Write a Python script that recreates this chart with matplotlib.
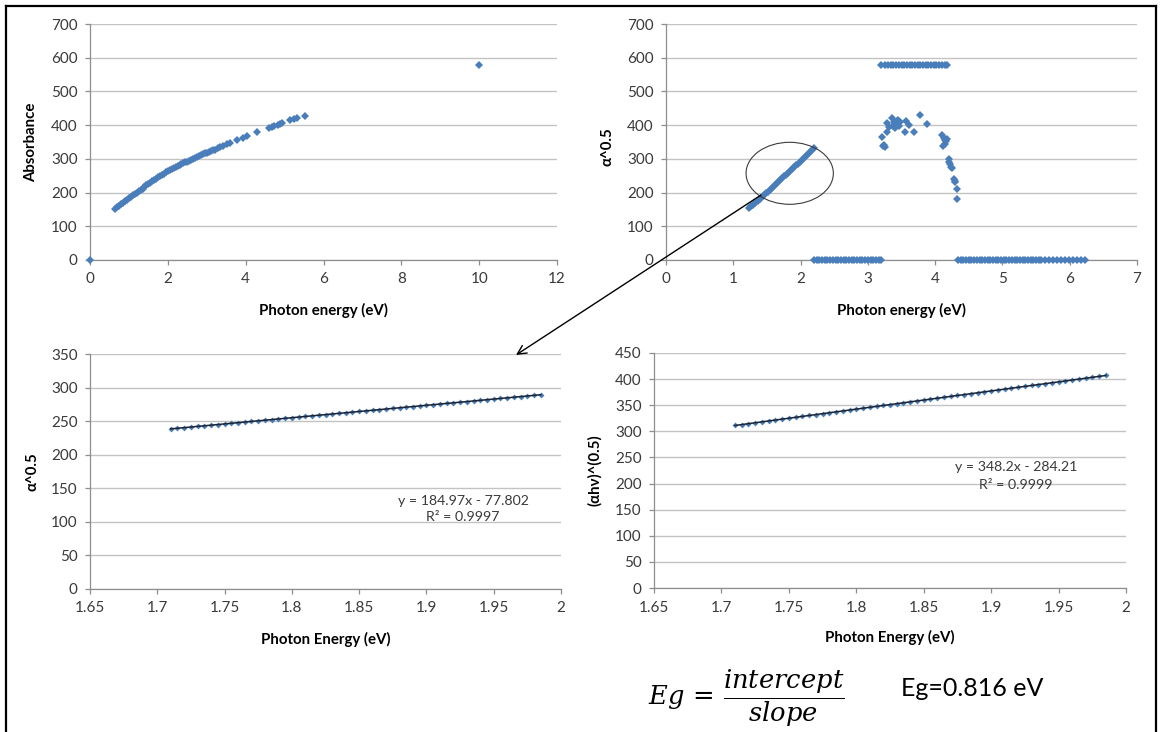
import matplotlib
matplotlib.use("Agg")
import matplotlib.pyplot as plt
from matplotlib.patches import Ellipse, FancyArrowPatch
from matplotlib.lines import Line2D

# ------------------------------------------------------------------ data
# Top-left: Absorbance vs Photon energy
tl_x = [0.00,
        0.65, 0.70, 0.75, 0.80, 0.85, 0.90, 0.95, 1.00, 1.05, 1.10,
        1.15, 1.20, 1.25, 1.30, 1.35, 1.40, 1.45, 1.50, 1.55, 1.60,
        1.65, 1.70, 1.75, 1.80, 1.85, 1.90, 1.95, 2.00, 2.05, 2.10,
        2.15, 2.20, 2.25, 2.30, 2.35, 2.40, 2.45, 2.50, 2.55, 2.60,
        2.65, 2.70, 2.75, 2.80, 2.85, 2.90, 2.95, 3.00, 3.05, 3.10,
        3.15, 3.20,
        3.28, 3.35, 3.41, 3.51, 3.60, 3.79, 3.94, 4.04, 4.30, 4.61,
        4.67, 4.73, 4.82, 4.88, 4.93, 5.14, 5.23, 5.31, 5.53,
        10.0]
tl_y = [0,
        151, 156, 161, 165, 170, 174, 179, 183, 188, 192,
        196, 200, 204, 208, 212, 217, 221, 225, 229, 233,
        237, 241, 245, 248, 252, 256, 260, 264, 267, 270,
        273, 276, 279, 281, 284, 287, 290, 292, 295, 298,
        300, 303, 306, 308, 311, 313, 316, 318, 321, 323,
        325, 327,
        331, 334, 338, 343, 347, 356, 363, 367, 379, 392,
        395, 397, 401, 404, 405, 414, 417, 420, 428,
        578]

# Top-right: alpha^0.5 vs Photon energy (several groups of points)
tr_line_x = [1.24, 1.27, 1.30, 1.33, 1.36, 1.39, 1.42, 1.45, 1.48, 1.51,
             1.54, 1.57, 1.60, 1.63, 1.66, 1.69, 1.72, 1.75, 1.78, 1.81,
             1.84, 1.87, 1.90, 1.93, 1.96, 1.99, 2.02, 2.05, 2.08, 2.11,
             2.14, 2.17, 2.20]
tr_line_y = [153, 159, 164, 170, 175, 181, 186, 192, 198, 203,
             209, 214, 220, 225, 231, 236, 242, 248, 253, 259,
             264, 270, 275, 281, 286, 292, 298, 303, 309, 314,
             320, 325, 331]
tr_zero1_x = [2.20, 2.24, 2.28, 2.32, 2.36, 2.40, 2.44, 2.48, 2.52, 2.56,
              2.60, 2.64, 2.68, 2.72, 2.76, 2.80, 2.84, 2.88, 2.92, 2.96,
              3.00, 3.04, 3.08, 3.12, 3.16, 3.20]
tr_zero1_y = [0, 0, 0, 0, 0, 0, 0, 0, 0, 0,
              0, 0, 0, 0, 0, 0, 0, 0, 0, 0,
              0, 0, 0, 0, 0, 0]
tr_top_x = [3.19, 3.26, 3.30, 3.34, 3.38, 3.42, 3.46, 3.50, 3.54, 3.58,
            3.62, 3.66, 3.70, 3.74, 3.78, 3.82, 3.86, 3.90, 3.94, 3.98,
            4.02, 4.06, 4.10, 4.14, 4.18]
tr_top_y = [578, 578, 578, 578, 578, 578, 578, 578, 578, 578,
            578, 578, 578, 578, 578, 578, 578, 578, 578, 578,
            578, 578, 578, 578, 578]
tr_arc_x = [3.21, 3.23, 3.24, 3.25, 3.28, 3.29, 3.32, 3.36, 3.37, 3.39,
            3.40, 3.41, 3.43, 3.44, 3.45, 3.47, 3.48, 3.55, 3.57, 3.61,
            3.68, 3.77, 3.88, 4.10, 4.12, 4.13, 4.14, 4.15, 4.16, 4.17,
            4.20, 4.21, 4.22, 4.23, 4.25, 4.28, 4.29, 4.30, 4.32, 4.33]
tr_arc_y = [366, 338, 340, 336, 381, 405, 395, 420, 398, 410,
            392, 406, 412, 402, 415, 397, 408, 381, 413, 400,
            381, 429, 403, 370, 338, 362, 345, 356, 352, 358,
            300, 291, 284, 277, 274, 239, 233, 231, 210, 180]
tr_zero2_x = [4.34, 4.38, 4.42, 4.46, 4.50, 4.54, 4.58, 4.62, 4.66, 4.70,
              4.74, 4.78, 4.82, 4.86, 4.90, 4.94, 4.98, 5.02, 5.06, 5.10,
              5.14, 5.18, 5.22, 5.26, 5.30, 5.34, 5.38, 5.42, 5.46, 5.50,
              5.54, 5.58, 5.63, 5.69, 5.75, 5.81, 5.87, 5.93, 5.99, 6.05,
              6.11, 6.17, 6.23]
tr_zero2_y = [0, 0, 0, 0, 0, 0, 0, 0, 0, 0,
              0, 0, 0, 0, 0, 0, 0, 0, 0, 0,
              0, 0, 0, 0, 0, 0, 0, 0, 0, 0,
              0, 0, 0, 0, 0, 0, 0, 0, 0, 0,
              0, 0, 0]

# Bottom charts: fitted region
fit_x = [1.710, 1.715, 1.720, 1.725, 1.730, 1.735, 1.740, 1.745, 1.750, 1.755,
         1.760, 1.765, 1.770, 1.775, 1.780, 1.785, 1.790, 1.795, 1.800, 1.805,
         1.810, 1.815, 1.820, 1.825, 1.830, 1.835, 1.840, 1.845, 1.850, 1.855,
         1.860, 1.865, 1.870, 1.875, 1.880, 1.885, 1.890, 1.895, 1.900, 1.905,
         1.910, 1.915, 1.920, 1.925, 1.930, 1.935, 1.940, 1.945, 1.950, 1.955,
         1.960, 1.965, 1.970, 1.975, 1.980, 1.985]
bl_y = [238.5, 239.4, 240.3, 241.3, 242.2, 243.1, 244.0, 245.0, 245.9, 246.8,
        247.8, 248.7, 249.6, 250.5, 251.5, 252.4, 253.3, 254.2, 255.2, 256.1,
        257.0, 257.9, 258.9, 259.8, 260.7, 261.6, 262.6, 263.5, 264.4, 265.3,
        266.3, 267.2, 268.1, 269.1, 270.0, 270.9, 271.8, 272.8, 273.7, 274.6,
        275.5, 276.5, 277.4, 278.3, 279.2, 280.2, 281.1, 282.0, 282.9, 283.9,
        284.8, 285.7, 286.6, 287.6, 288.5, 289.4]
br_y = [311.2, 312.9, 314.7, 316.4, 318.2, 319.9, 321.6, 323.4, 325.1, 326.9,
        328.6, 330.4, 332.1, 333.8, 335.6, 337.3, 339.1, 340.8, 342.5, 344.3,
        346.0, 347.8, 349.5, 351.3, 353.0, 354.7, 356.5, 358.2, 360.0, 361.7,
        363.4, 365.2, 366.9, 368.7, 370.4, 372.2, 373.9, 375.6, 377.4, 379.1,
        380.9, 382.6, 384.3, 386.1, 387.8, 389.6, 391.3, 393.1, 394.8, 396.5,
        398.3, 400.0, 401.8, 403.5, 405.2, 407.0]
bl_slope, bl_intercept, bl_r2 = 184.97, -77.802, "0.9997"
br_slope, br_intercept, br_r2 = 348.2, -284.21, "0.9999"

# ticks
tl_xticks = [0, 2, 4, 6, 8, 10, 12]
tr_xticks = [0, 1, 2, 3, 4, 5, 6, 7]
top_yticks = [0, 100, 200, 300, 400, 500, 600, 700]
bot_xticks = [1.65, 1.70, 1.75, 1.80, 1.85, 1.90, 1.95, 2.00]
bot_xticklabels = ["1.65", "1.7", "1.75", "1.8", "1.85", "1.9", "1.95", "2"]
bl_yticks = [0, 50, 100, 150, 200, 250, 300, 350]
br_yticks = [0, 50, 100, 150, 200, 250, 300, 350, 400, 450]

# ------------------------------------------------------------------ style
plt.rcParams["font.family"] = ["Lato", "DejaVu Sans"]
plt.rcParams["mathtext.fontset"] = "dejavuserif"

W, H = 1160, 732
fig = plt.figure(figsize=(W / 100, H / 100), dpi=100)
fig.patch.set_facecolor("white")

BLUE = "#4A7EBB"
GRID = "#C3C3C3"
SPINE = "#8E8E8E"
TXT = "#3A3A3A"


def px_axes(l, r, t, b):
    return fig.add_axes([l / W, 1 - b / H, (r - l) / W, (b - t) / H])


def style(ax, xlim, xticks, xlabels, ylim, yticks, xlabel, ylabel, xl_pos, yl_pos):
    ax.set_xlim(*xlim)
    ax.set_ylim(*ylim)
    ax.set_xticks(xticks)
    if xlabels is not None:
        ax.set_xticklabels(xlabels)
    ax.set_yticks(yticks)
    ax.grid(axis="y", color=GRID, lw=1.0)
    ax.set_axisbelow(True)
    for s in ("top", "right"):
        ax.spines[s].set_visible(False)
    for s in ("left", "bottom"):
        ax.spines[s].set_color(SPINE)
        ax.spines[s].set_linewidth(0.9)
    ax.tick_params(direction="out", length=3.5, width=0.9, color=SPINE,
                   labelsize=11, labelcolor=TXT, pad=5.5)
    ax.set_xlabel(xlabel, fontsize=10.8, fontweight="bold", color="black")
    ax.set_ylabel(ylabel, fontsize=10.8, fontweight="bold", color="black")
    ax.xaxis.set_label_coords(*xl_pos)
    ax.yaxis.set_label_coords(*yl_pos)


def pts(ax, x, y, ms=4.0):
    ax.plot(x, y, linestyle="none", marker="D", ms=ms, color=BLUE,
            markeredgewidth=0, clip_on=False, zorder=3)


# Top-left
ax1 = px_axes(90, 557, 24, 260)
pts(ax1, tl_x, tl_y)
style(ax1, (0, 12), tl_xticks, None, (0, 700), top_yticks,
      "Photon energy (eV)", "Absorbance", (0.5, -0.182), (-0.111, 0.5))

# Top-right
ax2 = px_axes(666, 1137, 24, 260)
for gx, gy in ((tr_line_x, tr_line_y), (tr_zero1_x, tr_zero1_y),
               (tr_top_x, tr_top_y), (tr_arc_x, tr_arc_y),
               (tr_zero2_x, tr_zero2_y)):
    pts(ax2, gx, gy)
style(ax2, (0, 7), tr_xticks, None, (0, 700), top_yticks,
      "Photon energy (eV)", "α^0.5", (0.5, -0.182), (-0.110, 0.48))

# Bottom-left
tx = [fit_x[0], fit_x[-1]]
ax3 = px_axes(90, 561, 354, 589)
pts(ax3, fit_x, bl_y, ms=3.0)
ax3.plot(tx, [bl_slope * v + bl_intercept for v in tx], color="#1F2430", lw=1.1, zorder=4)
style(ax3, (1.65, 2.0), bot_xticks, bot_xticklabels, (0, 350), bl_yticks,
      "Photon Energy (eV)", "α^0.5", (0.5, -0.181), (-0.108, 0.5))

# Bottom-right
ax4 = px_axes(654, 1126, 353, 588)
pts(ax4, fit_x, br_y, ms=3.0)
ax4.plot(tx, [br_slope * v + br_intercept for v in tx], color="#1F2430", lw=1.1, zorder=4)
style(ax4, (1.65, 2.0), bot_xticks, bot_xticklabels, (0, 450), br_yticks,
      "Photon Energy (eV)", "(αhν)^(0.5)", (0.5, -0.179), (-0.110, 0.5))


# equation labels (figure pixel positions)
def ftext(x, y, s, **kw):
    fig.text(x / W, 1 - y / H, s, **kw)


ftext(463, 501, f"y = {bl_slope}x - {abs(bl_intercept)}", fontsize=10.2, color=TXT, ha="center", va="center")
ftext(463, 517, f"R² = {bl_r2}", fontsize=10.2, color=TXT, ha="center", va="center")
ftext(1016, 467, f"y = {br_slope}x - {abs(br_intercept)}", fontsize=10.2, color=TXT, ha="center", va="center")
ftext(1016, 485, f"R² = {br_r2}", fontsize=10.2, color=TXT, ha="center", va="center")

# formula
ftext(746, 698, r"$Eg\,=\,\dfrac{intercept}{slope}$", fontsize=18.5, color="black",
      ha="center", va="center")
ftext(972, 696, "Eg=0.816 eV", fontsize=18, color="black", ha="center", va="baseline")

# ellipse + arrow
fig.add_artist(Ellipse((789.7 / W, 1 - 173.3 / H), 87.3 / W, 62 / H,
                       transform=fig.transFigure, fill=False,
                       edgecolor="#3C3C3C", lw=0.8))
fig.add_artist(FancyArrowPatch((761 / W, 1 - 195 / H), (516 / W, 1 - 355 / H),
                               transform=fig.transFigure, arrowstyle="->",
                               mutation_scale=16, lw=1.0, color="black",
                               shrinkA=0, shrinkB=0))

# outer frame
for xs, ys in (([6, 6], [H + 5, 6]), ([6, 1156], [6, 6]), ([1156, 1156], [6, H + 5])):
    fig.add_artist(Line2D([v / W for v in xs], [1 - v / H for v in ys],
                          transform=fig.transFigure, color="black", lw=1.6))

fig.savefig("out.png", dpi=100, facecolor="white")
